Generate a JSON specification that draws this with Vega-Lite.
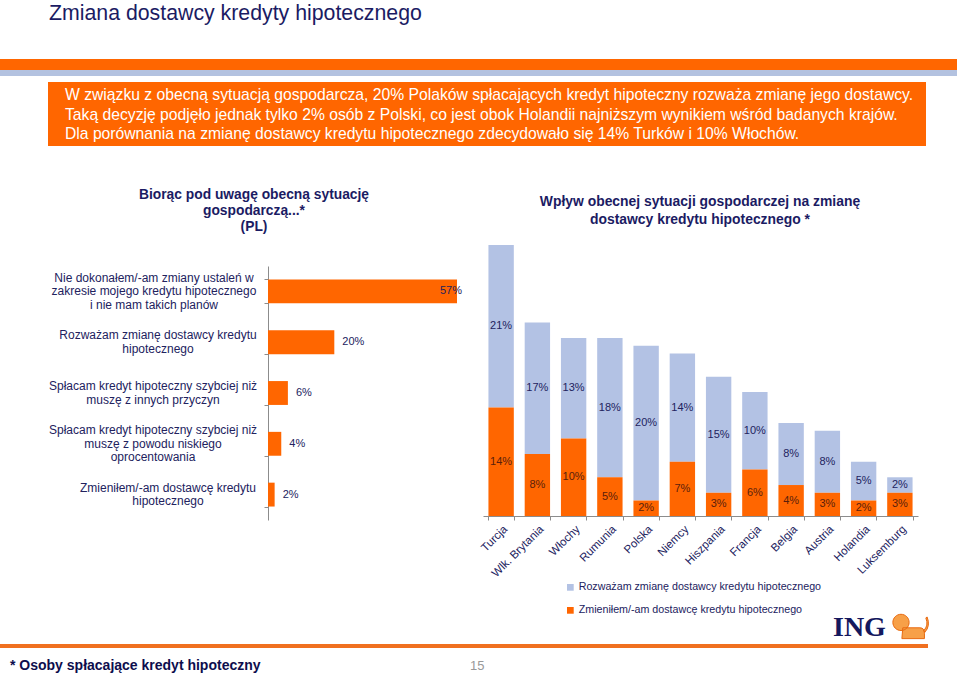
{
  "$schema": "https://vega.github.io/schema/vega-lite/v6.json",
  "width": 960,
  "height": 677,
  "autosize": {"type": "none"},
  "padding": 0,
  "background": "white",
  "config": {"view": {"stroke": null}, "font": "Liberation Sans", "axis": {"grid": false}},
  "layer": [
    {
      "data": {"values": [{"t": "Zmiana dostawcy kredyty hipotecznego"}]},
      "mark": {"type": "text", "x": 49, "y": 20, "align": "left", "baseline": "alphabetic", "fontSize": 21.3, "color": "#1b1b63"},
      "encoding": {"text": {"field": "t"}}
    },
    {
      "data": {"values": [{}]},
      "mark": {"type": "rect", "x": 0, "x2": 957, "y": 59, "y2": 70, "color": "#FF6600"},
      "encoding": {}
    },
    {
      "data": {"values": [{}]},
      "mark": {"type": "rect", "x": 0, "x2": 957, "y": 70, "y2": 76, "color": "#B3C2E0"},
      "encoding": {}
    },
    {
      "data": {"values": [{}]},
      "mark": {"type": "rect", "x": 48, "x2": 926, "y": 82, "y2": 146, "color": "#FF6600"},
      "encoding": {}
    },
    {
      "data": {"values": [{"t": "W związku z obecną sytuacją gospodarcza, 20% Polaków spłacających kredyt hipoteczny rozważa zmianę jego dostawcy.\nTaką decyzję podjęło jednak tylko 2% osób z Polski, co jest obok Holandii najniższym wynikiem wśród badanych krajów.\nDla porównania na zmianę dostawcy kredytu hipotecznego zdecydowało się 14% Turków i 10% Włochów."}]},
      "mark": {"type": "text", "x": 65, "y": 95, "align": "left", "baseline": "middle", "fontSize": 15.7, "lineHeight": 19.5, "lineBreak": "\n", "color": "white"},
      "encoding": {"text": {"field": "t"}}
    },
    {
      "data": {"values": [{"t": "Biorąc pod uwagę obecną sytuację\ngospodarczą...*\n(PL)"}]},
      "mark": {"type": "text", "x": 254, "y": 195, "align": "center", "baseline": "middle", "fontSize": 13.8, "fontWeight": "bold", "lineHeight": 16, "lineBreak": "\n", "color": "#1b1b63"},
      "encoding": {"text": {"field": "t"}}
    },
    {
      "data": {"values": [{"t": "Wpływ obecnej sytuacji gospodarczej na zmianę\ndostawcy kredytu hipotecznego *"}]},
      "mark": {"type": "text", "x": 700, "y": 202, "align": "center", "baseline": "middle", "fontSize": 13.9, "fontWeight": "bold", "lineHeight": 18, "lineBreak": "\n", "color": "#1b1b63"},
      "encoding": {"text": {"field": "t"}}
    },
    {
      "data": {"values": [{"t": "ING"}]},
      "mark": {"type": "text", "x": 833, "y": 628, "align": "left", "baseline": "middle", "fontSize": 28, "font": "Liberation Serif", "fontWeight": "bold", "color": "#14185e"},
      "encoding": {"text": {"field": "t"}}
    },
    {
      "data": {"values": [{}]},
      "mark": {
        "type": "point", "x": 910, "y": 626, "size": 1300, "filled": true, "fill": "#F7A048", "stroke": "#E8690F", "strokeWidth": 1, "opacity": 1,
        "shape": "M -0.95 -0.2 A 0.45 0.45 0 1 1 -0.05 -0.2 A 0.45 0.45 0 1 1 -0.95 -0.2 Z M -0.4 0.1 L 0.55 0.1 Q 0.8 0.1 0.8 0.4 L 0.8 0.7 L -0.45 0.7 Z M 0.75 0.25 Q 1.05 0 0.88 -0.45 L 0.95 -0.5 Q 1.15 0 0.82 0.35 Z"
      },
      "encoding": {}
    },
    {
      "data": {"values": [{}]},
      "mark": {"type": "rect", "x": 0, "x2": 928, "y": 644, "y2": 648, "color": "#F07020"},
      "encoding": {}
    },
    {
      "data": {"values": [{"t": "* Osoby spłacające kredyt hipoteczny"}]},
      "mark": {"type": "text", "x": 10, "y": 666, "align": "left", "baseline": "middle", "fontSize": 14, "fontWeight": "bold", "color": "#0d0d4d"},
      "encoding": {"text": {"field": "t"}}
    },
    {
      "data": {"values": [{"t": "15"}]},
      "mark": {"type": "text", "x": 470, "y": 666, "align": "left", "baseline": "middle", "fontSize": 13, "color": "#999999"},
      "encoding": {"text": {"field": "t"}}
    },
    {
      "data": {"values": [
        {"cat": "Nie dokonałem/-am zmiany ustaleń w|zakresie mojego kredytu hipotecznego|i nie mam takich planów", "v": 57},
        {"cat": "Rozważam zmianę dostawcy kredytu|hipotecznego", "v": 20},
        {"cat": "Spłacam kredyt hipoteczny szybciej niż|muszę z innych przyczyn", "v": 6},
        {"cat": "Spłacam kredyt hipoteczny szybciej niż|muszę z powodu niskiego|oprocentowania", "v": 4},
        {"cat": "Zmieniłem/-am dostawcę kredytu|hipotecznego", "v": 2}
      ]},
      "encoding": {
        "y": {
          "field": "cat", "type": "nominal", "sort": null,
          "scale": {"type": "band", "range": [266, 520], "paddingInner": 0.53, "paddingOuter": 0.265},
          "axis": {
            "orient": "left", "offset": -268, "title": null, "labels": false,
            "tickSize": 4, "tickBand": "extent", "domainColor": "#8c8c8c", "tickColor": "#8c8c8c"
          }
        }
      },
      "layer": [
        {
          "mark": {"type": "bar", "color": "#FF6600"},
          "encoding": {
            "x": {"field": "v", "type": "quantitative", "scale": {"domain": [0, 57], "range": [268, 457], "nice": false, "zero": true}, "axis": null}
          }
        },
        {
          "mark": {"type": "text", "align": "left", "baseline": "middle", "fontSize": 11, "color": "#22225e", "dx": {"expr": "datum.v > 50 ? -17 : 8"}, "text": {"expr": "datum.v + '%'"}},
          "encoding": {
            "x": {"field": "v", "type": "quantitative"}
          }
        },
        {
          "mark": {
            "type": "text", "x": 154, "align": "center", "baseline": "middle", "fontSize": 12, "color": "#22225e",
            "lineBreak": "|", "lineHeight": 13.5,
            "dx": {"expr": "indexof(datum.cat, 'Rozwa') == 0 ? 4 : (indexof(datum.cat, 'Zmieni') == 0 ? 14 : (indexof(datum.cat, 'Spłac') == 0 ? -1 : 0))"},
            "dy": {"expr": "-(length(split(datum.cat, '|')) - 1) * 6.75"}
          },
          "encoding": {
            "text": {"field": "cat"}
          }
        }
      ]
    },
    {
      "data": {"values": [
        {"country": "Turcja", "series": "Rozważam zmianę dostawcy kredytu hipotecznego", "v": 21},
        {"country": "Turcja", "series": "Zmieniłem/-am dostawcę kredytu hipotecznego", "v": 14},
        {"country": "Wlk. Brytania", "series": "Rozważam zmianę dostawcy kredytu hipotecznego", "v": 17},
        {"country": "Wlk. Brytania", "series": "Zmieniłem/-am dostawcę kredytu hipotecznego", "v": 8},
        {"country": "Włochy", "series": "Rozważam zmianę dostawcy kredytu hipotecznego", "v": 13},
        {"country": "Włochy", "series": "Zmieniłem/-am dostawcę kredytu hipotecznego", "v": 10},
        {"country": "Rumunia", "series": "Rozważam zmianę dostawcy kredytu hipotecznego", "v": 18},
        {"country": "Rumunia", "series": "Zmieniłem/-am dostawcę kredytu hipotecznego", "v": 5},
        {"country": "Polska", "series": "Rozważam zmianę dostawcy kredytu hipotecznego", "v": 20},
        {"country": "Polska", "series": "Zmieniłem/-am dostawcę kredytu hipotecznego", "v": 2},
        {"country": "Niemcy", "series": "Rozważam zmianę dostawcy kredytu hipotecznego", "v": 14},
        {"country": "Niemcy", "series": "Zmieniłem/-am dostawcę kredytu hipotecznego", "v": 7},
        {"country": "Hiszpania", "series": "Rozważam zmianę dostawcy kredytu hipotecznego", "v": 15},
        {"country": "Hiszpania", "series": "Zmieniłem/-am dostawcę kredytu hipotecznego", "v": 3},
        {"country": "Francja", "series": "Rozważam zmianę dostawcy kredytu hipotecznego", "v": 10},
        {"country": "Francja", "series": "Zmieniłem/-am dostawcę kredytu hipotecznego", "v": 6},
        {"country": "Belgia", "series": "Rozważam zmianę dostawcy kredytu hipotecznego", "v": 8},
        {"country": "Belgia", "series": "Zmieniłem/-am dostawcę kredytu hipotecznego", "v": 4},
        {"country": "Austria", "series": "Rozważam zmianę dostawcy kredytu hipotecznego", "v": 8},
        {"country": "Austria", "series": "Zmieniłem/-am dostawcę kredytu hipotecznego", "v": 3},
        {"country": "Holandia", "series": "Rozważam zmianę dostawcy kredytu hipotecznego", "v": 5},
        {"country": "Holandia", "series": "Zmieniłem/-am dostawcę kredytu hipotecznego", "v": 2},
        {"country": "Luksemburg", "series": "Rozważam zmianę dostawcy kredytu hipotecznego", "v": 2},
        {"country": "Luksemburg", "series": "Zmieniłem/-am dostawcę kredytu hipotecznego", "v": 3}
      ]},
      "transform": [
        {"stack": "v", "groupby": ["country"], "sort": [{"field": "series", "order": "descending"}], "as": ["y0", "y1"]},
        {"calculate": "(datum.y0 + datum.y1) / 2", "as": "mid"}
      ],
      "encoding": {
        "x": {
          "field": "country", "type": "nominal", "sort": null,
          "scale": {"type": "band", "range": [483, 918], "paddingInner": 0.3, "paddingOuter": 0.15},
          "axis": {
            "orient": "bottom", "offset": -161, "title": null,
            "labelAngle": -45, "labelAlign": "right", "labelBaseline": "top",
            "labelFontSize": 11.5, "labelColor": "#22225e", "labelPadding": 3,
            "labelOverlap": false, "labelBound": false, "labelLimit": 0,
            "tickSize": 4, "tickBand": "extent", "domainColor": "#8c8c8c", "tickColor": "#8c8c8c"
          }
        }
      },
      "layer": [
        {
          "mark": {"type": "bar"},
          "encoding": {
            "y": {"field": "y0", "type": "quantitative", "scale": {"domain": [0, 35], "range": [516, 245], "nice": false, "zero": true}, "axis": null},
            "y2": {"field": "y1"},
            "color": {
              "field": "series", "type": "nominal",
              "scale": {"domain": ["Rozważam zmianę dostawcy kredytu hipotecznego", "Zmieniłem/-am dostawcę kredytu hipotecznego"], "range": ["#B3C2E4", "#FF6600"]},
              "legend": {"orient": "none", "legendX": 565, "legendY": 582, "title": null, "symbolType": "square", "symbolSize": 45, "symbolStrokeWidth": 0, "labelFontSize": 10.7, "labelColor": "#22225e", "labelLimit": 0, "rowPadding": 11, "labelOffset": 3}
            }
          }
        },
        {
          "mark": {"type": "text", "fontSize": 11, "baseline": "middle", "align": "center", "text": {"expr": "datum.v + '%'"}},
          "encoding": {
            "y": {"field": "mid", "type": "quantitative"},
            "color": {"condition": {"test": "indexof(datum.series, 'Zmieni') == 0", "value": "#5a1e0c"}, "value": "#22225e"}
          }
        }
      ]
    }
  ],
  "resolve": {"scale": {"x": "independent", "y": "independent"}}
}
